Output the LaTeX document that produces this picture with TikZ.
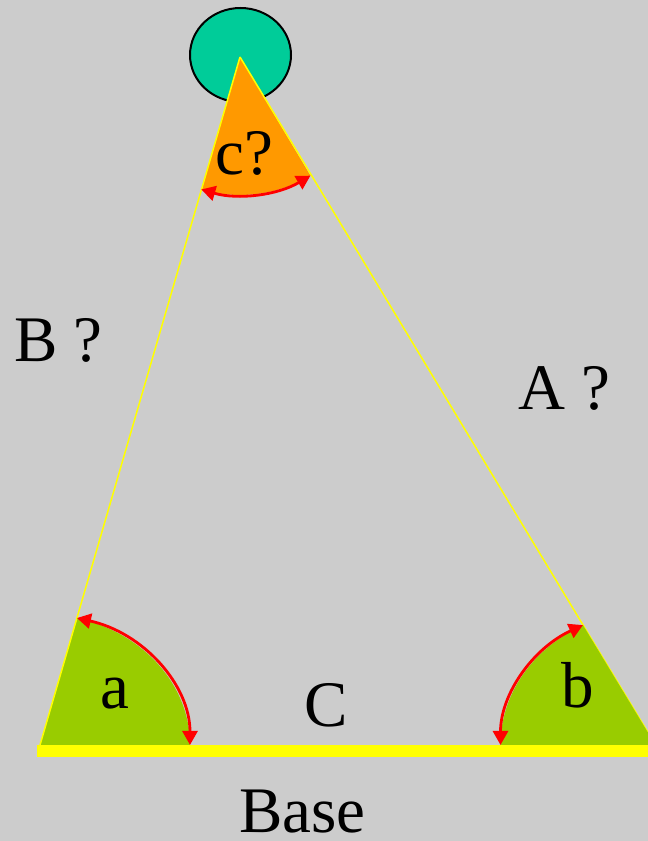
\documentclass[tikz,border=0pt]{standalone}
\usepackage{fontspec}
\setmainfont{Liberation Serif}
\usetikzlibrary{arrows.meta,shapes.geometric}
\definecolor{bg}{HTML}{CCCCCC}
\definecolor{tealc}{HTML}{00CC99}
\definecolor{orng}{HTML}{FF9900}
\definecolor{lgreen}{HTML}{99CC00}
\definecolor{yel}{HTML}{FFFF00}
\definecolor{rd}{HTML}{FF0000}
\begin{document}
\begin{tikzpicture}[x=1pt,y=1pt,
  side/.style={draw=yel,line width=1.5pt},
  anglearrow/.style={draw=rd,line width=2.8pt,{Triangle[length=14pt,width=15pt]}-{Triangle[length=14pt,width=15pt]}},
  lbl/.style={anchor=base west,inner sep=0pt,font=\fontsize{65}{78}\selectfont}]
\useasboundingbox (0,0) rectangle (648,841);
\clip (0,0) rectangle (648,841);
\fill[bg] (0,0) rectangle (648,841);
\coordinate (P) at (240,784);
\coordinate (L) at (40,96);
\coordinate (R) at (655.5,96);
% circle at apex
\node[draw=black,line width=2pt,fill=tealc,ellipse,minimum width=101pt,minimum height=94pt,inner sep=0pt] (top) at (240.5,786) {};
% apex sector
\fill[orng] (P) -- ++(253.7:138) arc[start angle=253.7,end angle=300.7,radius=138] -- cycle;
% right side
\draw[side] (P) -- (R);
% base-angle sectors
\fill[lgreen] (L) -- ++(150,0) arc[start angle=0,end angle=75.75,x radius=150,y radius=131] -- cycle;
\fill[lgreen] (R) -- ++(-155,0) arc[start angle=180,end angle=117.9,x radius=155,y radius=135.7] -- cycle;
% left side
\draw[side] (P) -- (L);
% base
\fill[yel] (37,84) rectangle (648,96);
% angle arcs
\draw[anglearrow] (P) ++(253.7:138) arc[start angle=253.7,end angle=300.7,radius=138];
\draw[anglearrow] (L) ++(150,0) arc[start angle=0,end angle=75.75,x radius=150,y radius=131];
\draw[anglearrow] (R) ++(-155,0) arc[start angle=180,end angle=117.9,x radius=155,y radius=135.7];
% labels
\node[lbl] (lc) at (215,666) {c?};
\node[lbl] (lB) at (14,479) {B ?};
\node[lbl] (lA) at (518,431) {A ?};
\node[lbl] (la) at (100,132) {a};
\node[lbl] (lb) at (561,133) {b};
\node[lbl] (lC) at (304,114) {C};
\node[lbl] (lBase) at (239,9) {Base};
\end{tikzpicture}
\end{document}
